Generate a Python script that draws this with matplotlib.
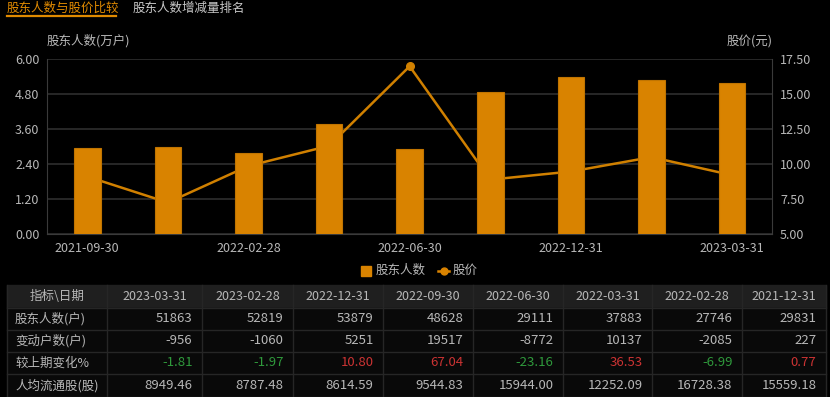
import matplotlib
matplotlib.use("Agg")
import matplotlib.pyplot as plt
from matplotlib.patches import Rectangle
from matplotlib.lines import Line2D
import numpy as np

plt.rcParams['font.family'] = ['Noto Sans CJK SC', 'DejaVu Sans']

# chart data (oldest -> newest)
dates = ['2021-09-30', '2021-12-31', '2022-02-28', '2022-03-31', '2022-06-30',
         '2022-09-30', '2022-12-31', '2023-02-28', '2023-03-31']
holders = [29604, 29831, 27746, 37883, 29111, 48628, 53879, 52819, 51863]
price = [9.11, 7.25, 9.87, 11.31, 17.00, 8.89, 9.47, 10.50, 9.21]

# table data (newest -> oldest)
table_dates = ['2023-03-31', '2023-02-28', '2022-12-31', '2022-09-30',
               '2022-06-30', '2022-03-31', '2022-02-28', '2021-12-31']
row_names = ['股东人数(户)', '变动户数(户)', '较上期变化%', '人均流通股(股)']
holders_row = ['51863', '52819', '53879', '48628', '29111', '37883', '27746', '29831']
change_row = ['-956', '-1060', '5251', '19517', '-8772', '10137', '-2085', '227']
pct_row = ['-1.81', '-1.97', '10.80', '67.04', '-23.16', '36.53', '-6.99', '0.77']
per_row = ['8949.46', '8787.48', '8614.59', '9544.83', '15944.00', '12252.09',
           '16728.38', '15559.18']

ORANGE = '#d98300'
TXT = '#b8b8b8'
GRID = '#2e2e2e'

W, H = 830, 397
fig = plt.figure(figsize=(W / 100, H / 100), dpi=100, facecolor='black')

# main chart
ax = fig.add_axes([47 / W, 1 - 234 / H, (772.3 - 47) / W, (234 - 59.3) / H])
ax.set_facecolor('black')
ax2 = ax.twinx()
x = np.arange(len(dates))

# line sits behind the bars
ax.set_zorder(2)
ax2.set_zorder(1)
ax.patch.set_visible(False)
ax2.patch.set_facecolor('black')

ax.bar(x, np.array(holders) / 10000, width=0.33, color=ORANGE,
       edgecolor='#c07400', linewidth=0.8, zorder=3)
ax2.plot(x, price, color='#d08000', lw=1.8, marker='o', markersize=5.5, zorder=2)

ax.set_xlim(-0.5, len(dates) - 0.5)
ax.set_ylim(0, 6)
ax.set_yticks(np.arange(0, 6.01, 1.2))
ax.set_yticklabels([f'{v:.2f}' for v in np.arange(0, 6.01, 1.2)])
ax2.set_ylim(5, 17.5)
ax2.set_yticks(np.arange(5, 17.51, 2.5))
ax2.set_yticklabels([f'{v:.2f}' for v in np.arange(5, 17.51, 2.5)])
ax.set_xticks(x[::2])
ax.set_xticklabels(dates[::2])

ax2.grid(axis='y', color=GRID, lw=1.2, zorder=0)
ax2.set_axisbelow(True)
for a in (ax, ax2):
    a.tick_params(colors=TXT, labelsize=9, length=0, pad=5.5)
    for s in a.spines.values():
        s.set_visible(False)
ax.tick_params(axis='x', pad=6)
for side in ('left', 'right', 'bottom'):
    ax2.spines[side].set_visible(True)
    ax2.spines[side].set_color('#3a3a3a')

# overlay in pixel coordinates for tabs, labels, legend and table
ov = fig.add_axes([0, 0, 1, 1], zorder=5)
ov.set_xlim(0, W)
ov.set_ylim(H, 0)
ov.axis('off')
ov.patch.set_visible(False)

ov.text(7, 8, '股东人数与股价比较', color='#e08a00', fontsize=9, va='center')
ov.plot([7, 116], [16, 16], color='#e08a00', lw=1.6)
ov.text(133, 8, '股东人数增减量排名', color='#c8c8c8', fontsize=9, va='center')

ov.text(47, 41, '股东人数(万户)', color=TXT, fontsize=9, va='center')
ov.text(773, 41, '股价(元)', color=TXT, fontsize=9, va='center', ha='right')

# legend
ov.add_patch(Rectangle((361, 266), 9.5, 9.5, color=ORANGE))
ov.text(376, 270.5, '股东人数', color=TXT, fontsize=9, va='center')
ov.add_line(Line2D([438, 449], [270.5, 270.5], color=ORANGE, lw=1.8))
ov.plot([443.5], [270.5], 'o', color=ORANGE, markersize=5)
ov.text(453, 270.5, '股价', color=TXT, fontsize=9, va='center')

# table
col_edges = [7, 107, 202, 293, 383, 473, 563, 652, 742, 826]
row_edges = [285, 307.5, 330, 352, 374, 396.5]
ov.add_patch(Rectangle((col_edges[0], row_edges[0]), col_edges[-1] - col_edges[0],
                       row_edges[1] - row_edges[0], color='#1f1f1f'))
ov.add_patch(Rectangle((col_edges[0], row_edges[1]), col_edges[-1] - col_edges[0],
                       row_edges[-1] - row_edges[1], color='#090909'))
for xe in col_edges:
    ov.plot([xe, xe], [row_edges[0], row_edges[-1]], color='#262626', lw=1)
for ye in row_edges[1:]:
    ov.plot([col_edges[0], col_edges[-1]], [ye, ye], color='#262626', lw=1)

hy = (row_edges[0] + row_edges[1]) / 2
ov.text((col_edges[0] + col_edges[1]) / 2, hy, '指标\\日期', color=TXT,
        fontsize=9, ha='center', va='center')
for i, d in enumerate(table_dates):
    ov.text((col_edges[i + 1] + col_edges[i + 2]) / 2, hy, d, color=TXT,
            fontsize=9, ha='center', va='center')

rows = [holders_row, change_row, pct_row, per_row]
for r, (name, vals) in enumerate(zip(row_names, rows)):
    cy = (row_edges[r + 1] + row_edges[r + 2]) / 2
    ov.text(col_edges[0] + 8, cy, name, color=TXT, fontsize=9, va='center')
    for i, v in enumerate(vals):
        c = TXT
        if r == 2:
            c = '#2f9a3c' if v.startswith('-') else '#cc3333'
        ov.text(col_edges[i + 2] - 9.5, cy, v, color=c, fontsize=9.5,
                ha='right', va='center')

fig.savefig('out.png', dpi=100, facecolor='black')
